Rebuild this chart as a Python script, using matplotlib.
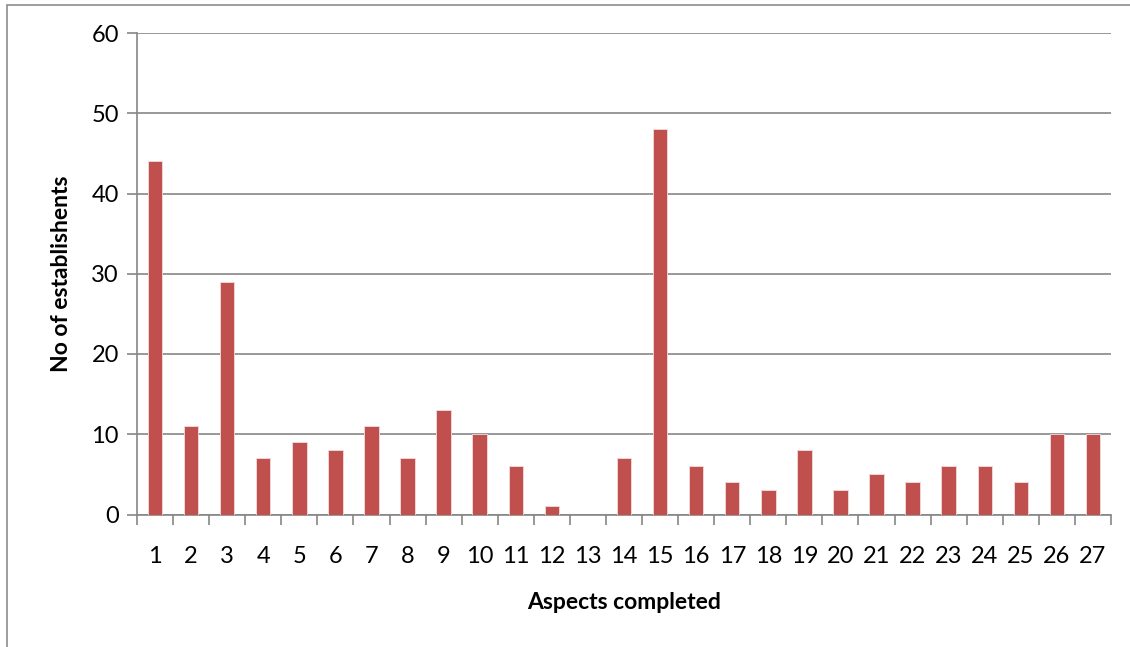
import numpy as np
import matplotlib.pyplot as plt
from matplotlib.patches import Rectangle

plt.rcParams['font.family'] = ['Lato', 'DejaVu Sans']

# data
aspects = [str(i) for i in range(1, 28)]
counts = [44, 11, 29, 7, 9, 8, 11, 7, 13, 10, 6, 1, 0, 7, 48,
          6, 4, 3, 8, 3, 5, 4, 6, 6, 4, 10, 10]
y_ticks = [0, 10, 20, 30, 40, 50, 60]

GRID = "#868686"
BAR = "#C0504D"

fig = plt.figure(figsize=(11.3, 6.47), dpi=100)
ax = fig.add_axes([137 / 1130, 1 - 514.5 / 647, (1111 - 137) / 1130, (514.5 - 33) / 647])

# outer chart border
fig.patches.append(Rectangle((7 / 1130, -0.1), 1.2, 1 - 5 / 647 + 0.1,
                             transform=fig.transFigure, fill=False,
                             edgecolor="#8c8c8c", linewidth=1.2))

x = np.arange(len(aspects))
ax.bar(x, counts, width=0.4, color=BAR, edgecolor="#f2dcdb", linewidth=0.6, zorder=3)

ax.set_xlim(-0.5, len(aspects) - 0.5)
ax.set_ylim(0, 60)
ax.set_yticks(y_ticks)
ax.yaxis.grid(True, color=GRID, linewidth=1.2, zorder=0)

# x ticks between categories, labels centred
ax.set_xticks(np.arange(-0.5, len(aspects)), minor=False)
ax.set_xticklabels([])
ax.set_xticks(x, minor=True)
ax.set_xticklabels(aspects, minor=True)
ax.tick_params(axis="x", which="major", length=7, width=1.2, color=GRID, direction="out")
ax.tick_params(axis="x", which="minor", length=0, pad=23, labelsize=17)
ax.tick_params(axis="y", length=7, width=1.2, color=GRID, labelsize=17, pad=6)

for side in ["top", "right"]:
    ax.spines[side].set_visible(False)
for side in ["left", "bottom"]:
    ax.spines[side].set_color(GRID)
    ax.spines[side].set_linewidth(1.2)

ax.set_xlabel("Aspects completed", fontsize=16.5, fontweight="bold", labelpad=18)
ax.set_ylabel("No of establishents", fontsize=16.5, fontweight="bold", labelpad=14)

fig.savefig("out.png", dpi=100)
plt.close(fig)
